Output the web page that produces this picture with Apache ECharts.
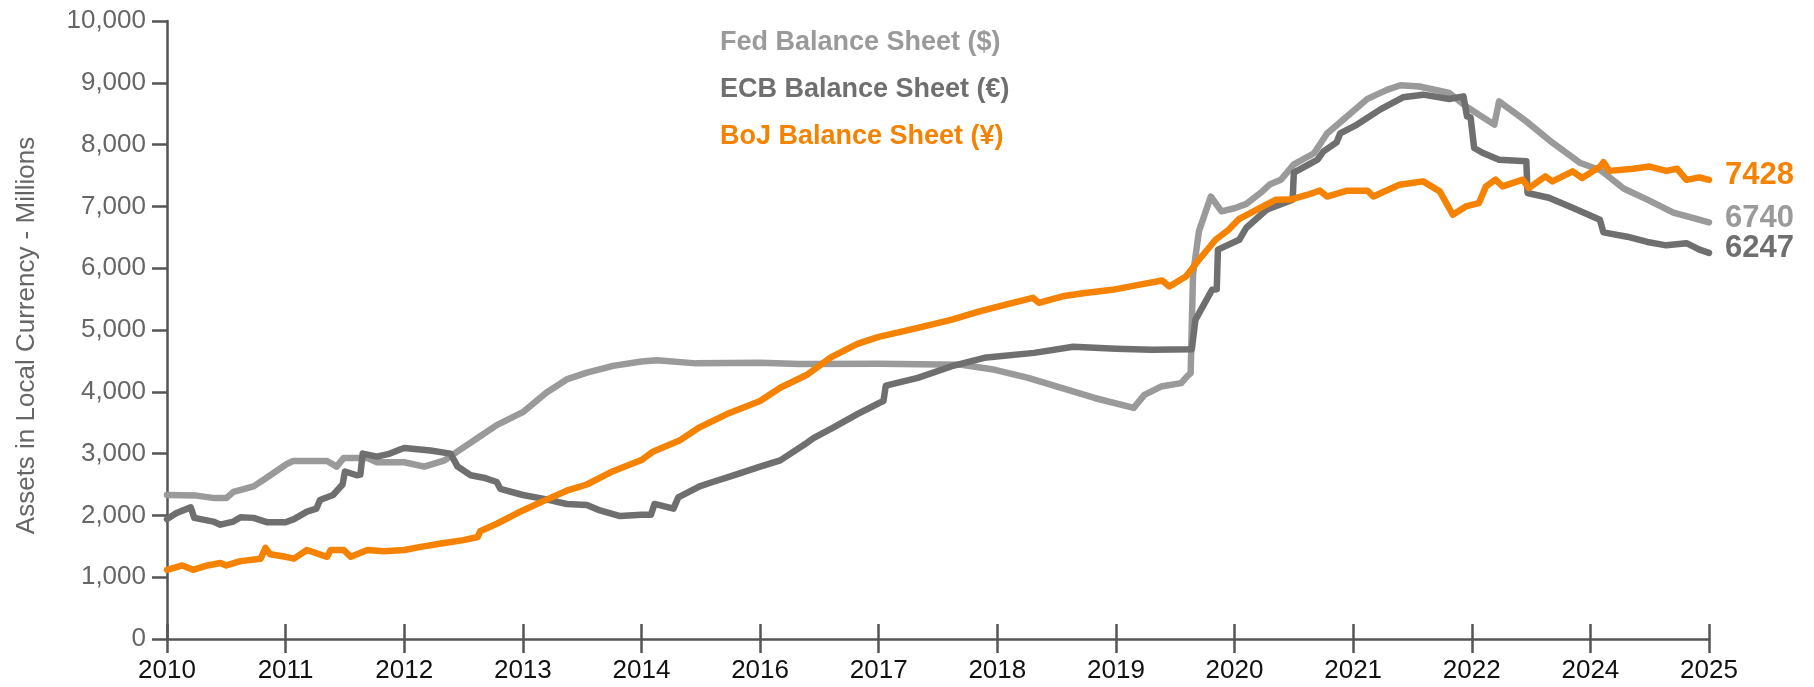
<!DOCTYPE html>
<html>
<head>
<meta charset="utf-8">
<title>Central bank balance sheets</title>
<script src="https://cdn.jsdelivr.net/npm/echarts@6/dist/echarts.min.js"></script>
<style>
  html, body { margin: 0; padding: 0; background: #fff; }
  #chart { width: 1814px; height: 687px; }
</style>
</head>
<body>
<div id="chart"></div>
<script>
// x positions are in tick units: 0 = first label (2010), 13 = last label (2025)
const tickLabels = ['2010', '2011', '2012', '2013', '2014', '2016', '2017',
  '2018', '2019', '2020', '2021', '2022', '2024', '2025'];

const seriesNames = ['Fed Balance Sheet ($)', 'ECB Balance Sheet (€)', 'BoJ Balance Sheet (¥)'];
const seriesColors = ['#9a9a9a', '#6f6f6f', '#f58200'];

const fedData = [
  [0, 2330], [0.25, 2320], [0.4, 2280], [0.5, 2280], [0.56, 2380], [0.73, 2470],
  [0.84, 2610], [1.0, 2820], [1.06, 2880], [1.35, 2880], [1.43, 2790], [1.49, 2930],
  [1.69, 2930], [1.77, 2860], [2.0, 2860], [2.17, 2790], [2.34, 2890], [2.45, 3035],
  [2.64, 3280], [2.78, 3460], [3.0, 3670], [3.2, 3990], [3.37, 4200], [3.54, 4310],
  [3.76, 4420], [4.0, 4490], [4.13, 4510], [4.46, 4460], [5.0, 4470], [5.33, 4450],
  [6.0, 4453], [6.7, 4437], [6.98, 4356], [7.26, 4226], [7.54, 4064], [7.82, 3900],
  [8.15, 3740], [8.24, 3950], [8.38, 4085], [8.55, 4140], [8.6, 4250], [8.63, 4300],
  [8.65, 5900], [8.7, 6600], [8.8, 7160], [8.89, 6920], [9.0, 6970], [9.1, 7040],
  [9.22, 7220], [9.3, 7360], [9.39, 7430], [9.5, 7680], [9.67, 7860], [9.78, 8180],
  [9.95, 8460], [10.12, 8740], [10.29, 8890], [10.4, 8960], [10.56, 8940], [10.81, 8835],
  [10.95, 8620], [11.19, 8323], [11.23, 8700], [11.46, 8376], [11.68, 8030], [11.91, 7707],
  [12.09, 7580], [12.28, 7290], [12.48, 7110], [12.7, 6900], [12.87, 6810], [13.0, 6740]
];

const ecbData = [
  [0, 1940], [0.08, 2040], [0.2, 2130], [0.23, 1960], [0.39, 1900], [0.45, 1850],
  [0.56, 1900], [0.62, 1970], [0.73, 1960], [0.84, 1890], [1.0, 1890], [1.07, 1940],
  [1.18, 2060], [1.26, 2110], [1.29, 2250], [1.4, 2330], [1.48, 2500], [1.5, 2710],
  [1.6, 2650], [1.63, 2660], [1.65, 3000], [1.77, 2950], [1.88, 3000], [1.97, 3070],
  [2.0, 3090], [2.22, 3050], [2.39, 3000], [2.45, 2790], [2.56, 2650], [2.67, 2610],
  [2.78, 2540], [2.81, 2430], [3.0, 2330], [3.2, 2260], [3.37, 2185], [3.54, 2170],
  [3.65, 2080], [3.82, 1990], [4.0, 2010], [4.08, 2010], [4.11, 2185], [4.27, 2110],
  [4.31, 2290], [4.49, 2470], [4.6, 2540], [4.77, 2645], [5.0, 2790], [5.17, 2890],
  [5.4, 3180], [5.45, 3250], [5.62, 3425], [5.82, 3640], [6.0, 3815], [6.04, 3850],
  [6.06, 4100], [6.33, 4225], [6.61, 4410], [6.89, 4550], [7.31, 4630], [7.64, 4728],
  [8.0, 4695], [8.3, 4680], [8.64, 4690], [8.67, 5165], [8.81, 5650], [8.85, 5660],
  [8.86, 6300], [9.04, 6460], [9.1, 6655], [9.27, 6946], [9.49, 7108], [9.5, 7545],
  [9.7, 7756], [9.75, 7890], [9.86, 8035], [9.89, 8180], [10.03, 8320], [10.23, 8570],
  [10.42, 8765], [10.59, 8808], [10.81, 8738], [10.93, 8780], [10.96, 8457], [10.99, 8440],
  [11.02, 7945], [11.09, 7868], [11.23, 7756], [11.46, 7729], [11.47, 7217], [11.65, 7140],
  [11.85, 6979], [12.08, 6784], [12.11, 6580], [12.31, 6510], [12.48, 6425], [12.64, 6370],
  [12.81, 6405], [12.92, 6300], [13.0, 6247]
];

const bojData = [
  [0, 1120], [0.13, 1190], [0.22, 1120], [0.34, 1190], [0.45, 1230], [0.5, 1190],
  [0.62, 1260], [0.79, 1300], [0.83, 1475], [0.87, 1370], [1.0, 1330], [1.07, 1300],
  [1.18, 1440], [1.35, 1330], [1.38, 1440], [1.49, 1440], [1.55, 1330], [1.69, 1440],
  [1.83, 1420], [2.0, 1440], [2.14, 1490], [2.31, 1545], [2.5, 1600], [2.62, 1650],
  [2.64, 1745], [2.78, 1865], [3.0, 2080], [3.2, 2255], [3.37, 2400], [3.54, 2500],
  [3.76, 2715], [4.0, 2895], [4.1, 3035], [4.32, 3210], [4.49, 3425], [4.72, 3640],
  [5.0, 3850], [5.17, 4065], [5.4, 4280], [5.6, 4560], [5.82, 4775], [6.0, 4890],
  [6.33, 5035], [6.61, 5165], [6.85, 5300], [7.13, 5440], [7.3, 5520], [7.35, 5440],
  [7.55, 5545], [7.74, 5600], [7.97, 5650], [8.19, 5730], [8.39, 5800], [8.45, 5705],
  [8.59, 5867], [8.7, 6137], [8.84, 6460], [8.95, 6622], [9.04, 6800], [9.24, 7000],
  [9.35, 7108], [9.47, 7110], [9.61, 7185], [9.72, 7255], [9.78, 7160], [9.95, 7255],
  [10.12, 7255], [10.17, 7160], [10.39, 7351], [10.59, 7405], [10.73, 7243], [10.84, 6865],
  [10.95, 7000], [11.06, 7054], [11.12, 7324], [11.2, 7432], [11.26, 7324], [11.43, 7432],
  [11.48, 7297], [11.62, 7486], [11.68, 7405], [11.85, 7567], [11.93, 7460], [12.08, 7640],
  [12.11, 7716], [12.16, 7575], [12.36, 7610], [12.5, 7645], [12.64, 7575], [12.73, 7610],
  [12.81, 7430], [12.92, 7470], [13.0, 7428]
];

const fontFamily = '"Liberation Sans", Arial, Helvetica, sans-serif';

const chart = echarts.init(document.getElementById('chart'), null, { renderer: 'canvas' });

const makeSeries = (name, data, color) => ({
  name: name,
  type: 'line',
  data: data,
  showSymbol: false,
  symbol: 'none',
  animation: false,
  lineStyle: { color: color, width: 6.5, join: 'round', cap: 'round' },
  itemStyle: { color: color },
  endLabel: {
    show: true,
    distance: 16,
    offset: [0, -4],
    color: color,
    fontSize: 31,
    fontWeight: 'bold',
    fontFamily: fontFamily,
    formatter: p => String(p.value[1])
  }
});

const option = {
  backgroundColor: '#fff',
  animation: false,
  grid: { left: 167, right: 105, top: 21, bottom: 48 },
  legend: {
    orient: 'vertical',
    left: 710,
    top: 24,
    icon: 'none',
    itemWidth: 0,
    itemHeight: 27,
    itemGap: 20,
    selectedMode: false,
    textStyle: { fontSize: 27, fontWeight: 'bold', fontFamily: fontFamily },
    data: seriesNames.map((n, i) => ({ name: n, textStyle: { color: seriesColors[i] } }))
  },
  xAxis: [
    {
      type: 'value',
      min: 0,
      max: 13,
      interval: 1,
      axisLine: { lineStyle: { color: '#555', width: 2.5 } },
      axisTick: { show: true, length: 14, lineStyle: { color: '#555', width: 2.5 } },
      axisLabel: {
        margin: 19,
        color: '#111',
        fontSize: 26,
        fontFamily: fontFamily,
        formatter: v => tickLabels[Math.round(v)]
      },
      splitLine: { show: false }
    },
    {
      type: 'value',
      position: 'bottom',
      min: 0,
      max: 13,
      interval: 1,
      axisLine: { show: false },
      axisTick: { show: true, inside: true, length: 15, lineStyle: { color: '#555', width: 2.5 } },
      axisLabel: { show: false },
      splitLine: { show: false }
    }
  ],
  yAxis: {
    type: 'value',
    min: 0,
    max: 10000,
    interval: 1000,
    name: 'Assets in Local Currency - Millions',
    nameLocation: 'middle',
    nameGap: 127,
    nameTextStyle: { color: '#666', fontSize: 26, fontFamily: fontFamily, padding: [0, 11, 0, 0] },
    axisLine: { show: true, lineStyle: { color: '#555', width: 2.5 } },
    axisTick: { show: true, length: 15, lineStyle: { color: '#555', width: 2.5 } },
    axisLabel: {
      margin: 21,
      color: '#666',
      fontSize: 26,
      fontFamily: fontFamily,
      formatter: v => v.toLocaleString('en-US')
    },
    splitLine: { show: false }
  },
  series: [
    makeSeries(seriesNames[0], fedData, seriesColors[0]),
    makeSeries(seriesNames[1], ecbData, seriesColors[1]),
    makeSeries(seriesNames[2], bojData, seriesColors[2])
  ]
};

chart.setOption(option);
</script>
</body>
</html>
